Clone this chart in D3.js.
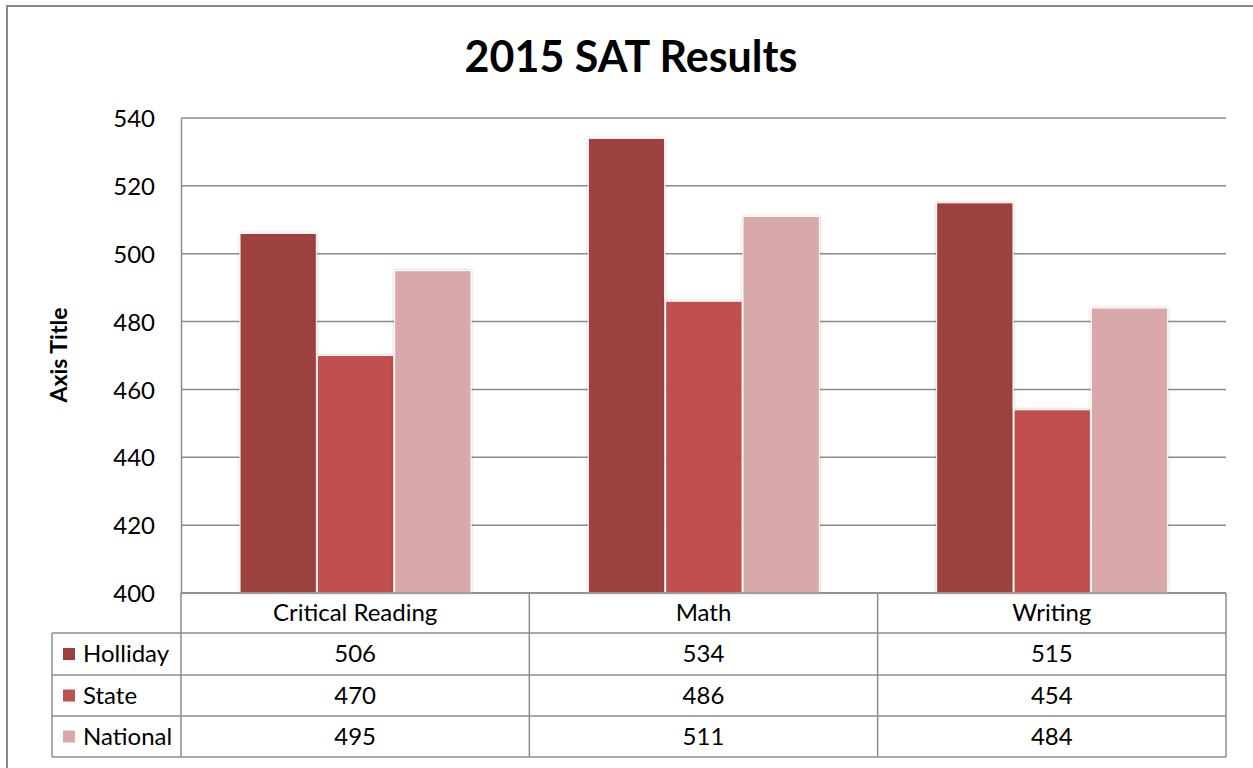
<!DOCTYPE html>
<meta charset="utf-8">
<style>
html, body { margin: 0; padding: 0; background: #fff; }
svg { display: block; }
text { font-family: Lato, "Open Sans", sans-serif; fill: #000; }
</style>
<svg width="1253" height="768"></svg>
<script src="https://d3js.org/d3.v7.min.js"></script>
<script>

var categories = ["Critical Reading", "Math", "Writing"];
var seriesNames = ["Holliday", "State", "National"];
var holliday = [506, 534, 515];
var state = [470, 486, 454];
var national = [495, 511, 484];
var yTicks = [400, 420, 440, 460, 480, 500, 520, 540];
var colors = ["#9c403f", "#c0504d", "#d9a9a9"];

var series = [holliday, state, national];

var svg = d3.select("svg");

// outer chart frame (runs off the right and bottom edges)
svg.append("rect")
  .attr("x", 7).attr("y", 6)
  .attr("width", 1300).attr("height", 800)
  .attr("fill", "none").attr("stroke", "#888").attr("stroke-width", 2);

var plotLeft = 181, plotRight = 1226, plotTop = 118, plotBottom = 593;

var x = d3.scaleBand().domain(categories).range([plotLeft, plotRight]);
var xs = d3.scaleBand().domain(seriesNames).range([0, 231]).paddingInner(0.013);
var y = d3.scaleLinear().domain([400, 540]).range([plotBottom, plotTop]);

svg.append("text")
  .attr("x", 631).attr("y", 72)
  .attr("text-anchor", "middle")
  .style("font-size", "43px").style("font-weight", "bold")
  .text("2015 SAT Results");

// gridlines
svg.append("g").selectAll("line")
  .data(yTicks)
  .join("line")
    .attr("x1", plotLeft).attr("x2", plotRight)
    .attr("y1", function(d) { return y(d); })
    .attr("y2", function(d) { return y(d); })
    .attr("stroke", "#8c8c8c").attr("stroke-width", 1.5);

// y axis
var yAxis = svg.append("g")
  .attr("transform", "translate(" + plotLeft + ",0)")
  .call(d3.axisLeft(y).tickValues(yTicks).tickSize(0).tickPadding(26));
yAxis.select(".domain").attr("stroke", "#8c8c8c").attr("stroke-width", 1.5);
yAxis.selectAll("text").style("font-size", "24px").style("font-family", "Lato, 'Open Sans', sans-serif").attr("dy", "0.36em");

svg.append("text")
  .attr("transform", "translate(67,355) rotate(-90)")
  .attr("text-anchor", "middle")
  .style("font-size", "23px").style("font-weight", "bold")
  .text("Axis Title");

// shadow filter for bars
var defs = svg.append("defs");
var f = defs.append("filter").attr("id", "sh").attr("x", "-10%").attr("y", "-10%").attr("width", "120%").attr("height", "120%");
f.append("feDropShadow").attr("dx", 0).attr("dy", 0).attr("stdDeviation", 1.5).attr("flood-color", "#000").attr("flood-opacity", 0.25);

var groups = svg.append("g").selectAll("g")
  .data(categories)
  .join("g")
    .attr("transform", function(d) { return "translate(" + (x(d) + 59) + ",0)"; });

groups.selectAll("rect")
  .data(function(c, i) { return seriesNames.map(function(s, j) { return { s: s, v: series[j][i], j: j }; }); })
  .join("rect")
    .attr("x", function(d) { return xs(d.s); })
    .attr("width", xs.bandwidth())
    .attr("y", function(d) { return y(d.v); })
    .attr("height", function(d) { return plotBottom - y(d.v); })
    .attr("fill", function(d) { return colors[d.j]; })
    .attr("stroke", "#fff").attr("stroke-width", 1)
    .attr("filter", "url(#sh)");

// data table
var rowTops = [593, 633, 675, 716, 757];
var gridColor = "#8c8c8c";
var tbl = svg.append("g");

// horizontal lines
tbl.selectAll("line.h")
  .data(rowTops)
  .join("line")
    .attr("class", "h")
    .attr("x1", function(d, i) { return i === 0 ? plotLeft : 52; })
    .attr("x2", plotRight)
    .attr("y1", function(d) { return d; }).attr("y2", function(d) { return d; })
    .attr("stroke", gridColor).attr("stroke-width", 1.5);

// vertical lines
var vx = [plotLeft].concat(categories.map(function(c) { return x(c) + x.bandwidth(); }));
tbl.selectAll("line.v")
  .data(vx)
  .join("line")
    .attr("class", "v")
    .attr("x1", function(d) { return d; }).attr("x2", function(d) { return d; })
    .attr("y1", plotBottom).attr("y2", rowTops[4])
    .attr("stroke", gridColor).attr("stroke-width", 1.5);
tbl.append("line")
  .attr("x1", 52).attr("x2", 52).attr("y1", rowTops[1]).attr("y2", rowTops[4])
  .attr("stroke", gridColor).attr("stroke-width", 1.5);

// category labels
tbl.selectAll("text.cat")
  .data(categories)
  .join("text")
    .attr("class", "cat")
    .attr("x", function(d) { return x(d) + x.bandwidth() / 2; })
    .attr("y", (rowTops[0] + rowTops[1]) / 2 + 8)
    .attr("text-anchor", "middle")
    .style("font-size", "24px")
    .text(function(d) { return d; });

seriesNames.forEach(function(s, j) {
  var cy = (rowTops[j + 1] + rowTops[j + 2]) / 2;
  tbl.append("rect")
    .attr("x", 63).attr("y", cy - 6).attr("width", 12).attr("height", 12)
    .attr("fill", colors[j]);
  tbl.append("text")
    .attr("x", 83).attr("y", cy + 8)
    .style("font-size", "24px")
    .text(s);
  tbl.selectAll("text.v" + j)
    .data(series[j])
    .join("text")
      .attr("class", "v" + j)
      .attr("x", function(d, i) { return x(categories[i]) + x.bandwidth() / 2; })
      .attr("y", cy + 8)
      .attr("text-anchor", "middle")
      .style("font-size", "24px")
      .text(function(d) { return d; });
});

</script>
